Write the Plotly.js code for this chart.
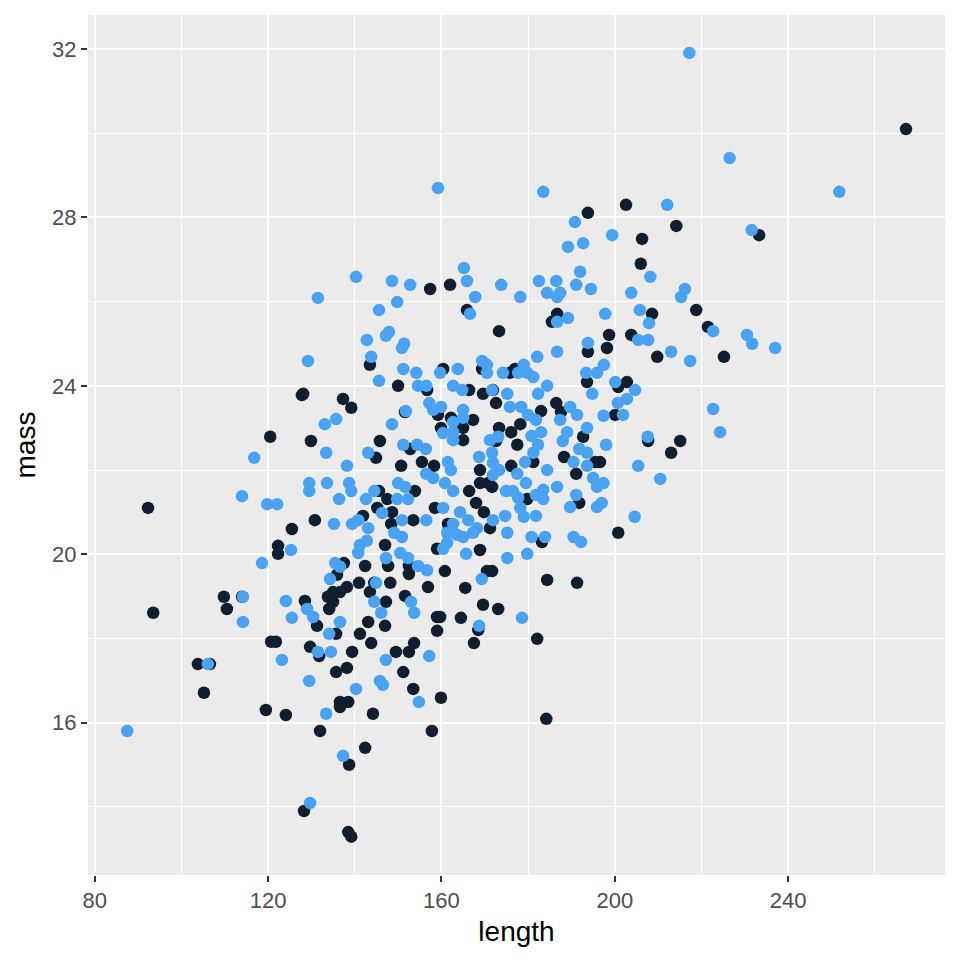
<!DOCTYPE html>
<html>
<head>
<meta charset="utf-8">
<script src="https://cdn.plot.ly/plotly-3.0.1.min.js"></script>
<style>html,body{margin:0;padding:0;background:#fff;}#chart{width:960px;height:960px;}</style>
</head>
<body>
<div id="chart"></div>
<script>
// Group A (dark points)
const darkLength = [
127.8,120.5,92.3,125.5,122.3,122.3,109.8,114.0,128.5,110.5,93.5,120.7,121.8,103.8,106.6,105.2,119.5,124.1,129.7,128.3,
157.4,162.0,143.5,160.4,150.0,156.7,128.1,137.3,139.2,151.6,159.2,162.2,
159.9,129.9,145.8,144.9,152.8,155.5,158.3,150.7,145.6,153.9,147.5,145.2,148.6,158.5,141.9,130.8,148.4,153.5,161.5,147.0,159.0,147.7,142.4,137.5,135.9,152.5,152.5,160.8,138.2,136.6,135.0,133.8,141.0,144.5,143.5,148.2,156.9,151.6,
134.1,135.0,147.2,159.0,159.7,164.5,159.0,131.3,143.1,147.0,135.7,141.2,143.8,131.8,139.4,149.5,152.5,153.7,138.2,135.7,151.2,153.5,159.9,136.6,138.5,136.6,144.2,132.0,157.8,142.4,138.7,138.5,139.2,
193.8,165.9,186.7,185.5,173.3,198.7,198.2,193.8,169.4,175.8,177.0,193.6,166.4,171.9,169.6,
172.6,186.5,187.6,183.0,167.3,165.0,165.0,173.3,172.6,176.1,178.2,177.5,192.7,168.9,181.2,176.1,188.3,195.5,191.1,168.9,171.7,170.8,166.4,179.8,168.0,169.8,191.8,171.2,183.2,168.9,170.5,171.7,165.5,184.4,191.3,
169.6,173.1,168.5,167.5,182.1,184.2,
202.6,214.2,233.3,206.3,206.0,218.8,208.6,203.8,221.5,209.8,225.2,202.8,200.8,200.1,207.7,215.1,213.0,196.6,200.8,267.2
];
const darkMass = [
23.78,22.79,21.10,20.60,20.20,20.01,18.99,18.99,18.89,18.70,18.61,17.92,17.92,17.39,17.39,16.71,16.30,16.18,17.80,13.90,
26.30,26.40,24.50,24.40,24.00,23.90,23.81,23.69,23.48,23.38,23.31,23.24,
23.00,22.69,22.69,22.29,22.50,22.19,22.10,22.10,21.50,21.50,21.31,21.10,21.00,21.10,20.91,20.81,20.72,20.81,20.72,20.22,20.13,19.72,19.72,19.79,19.51,19.72,19.53,19.60,19.22,19.10,19.10,18.99,19.32,19.32,19.10,19.32,19.22,19.01,
18.70,18.87,18.87,18.51,18.51,18.49,18.18,18.30,18.39,18.30,18.11,18.11,17.89,17.58,17.68,17.68,17.68,17.89,17.30,17.20,17.20,16.80,16.59,16.49,16.49,16.37,16.21,15.80,15.80,15.40,15.00,13.40,13.29,
28.11,25.80,25.71,25.52,25.30,25.21,24.90,24.81,24.40,24.31,24.40,24.09,23.90,23.90,23.81,
23.59,23.59,23.38,23.40,23.19,23.00,22.71,23.00,22.69,22.90,23.09,22.60,22.79,22.00,22.19,22.10,22.31,22.19,21.91,21.69,21.60,21.69,21.50,21.31,21.22,21.00,21.22,20.62,20.29,20.10,19.60,19.60,19.20,19.39,19.32,
18.80,18.70,18.20,17.89,17.99,16.09,
28.30,27.80,27.58,27.49,26.90,25.80,25.71,25.21,25.40,24.69,24.69,24.09,23.97,23.31,22.69,22.69,22.41,22.19,20.51,30.10
];
// Group B (light blue points)
const lightLength = [
116.8,114.0,119.8,122.1,125.3,118.6,114.2,124.1,125.5,114.2,123.2,106.1,87.5,129.5,129.7,
159.2,140.3,131.5,148.6,152.8,149.8,145.6,147.9,147.2,142.8,151.4,150.9,143.8,129.2,151.2,154.2,159.7,145.6,154.6,156.5,157.2,159.9,151.8,158.1,
133.1,135.7,148.6,160.4,133.4,143.1,151.2,154.4,156.4,138.2,161.5,162.2,156.5,158.1,160.8,129.5,129.5,133.6,138.7,139.2,150.0,151.6,144.5,136.4,142.6,149.8,152.3,146.3,160.4,135.2,139.4,140.8,150.9,156.5,143.1,149.1,150.9,161.3,141.2,142.8,140.8,150.5,152.3,160.4,161.3,147.2,135.5,136.6,134.3,154.6,156.7,144.9,
129.0,130.4,144.5,153.0,146.1,153.7,136.6,134.1,131.5,134.5,157.2,147.2,140.3,145.8,146.5,154.8,133.4,137.3,
183.5,190.8,192.7,199.4,189.2,165.2,165.9,173.8,167.8,178.2,182.5,186.5,192.0,191.1,194.5,184.4,187.4,186.7,166.6,186.7,189.2,197.8,193.8,182.1,186.7,163.8,169.4,170.5,170.5,174.2,179.0,177.7,179.8,181.2,184.4,193.4,195.9,197.5,194.8,162.7,164.8,171.7,175.2,182.3,
175.8,178.4,189.7,191.3,180.0,181.8,187.4,197.4,165.0,165.0,162.7,162.7,162.7,171.2,173.1,180.8,183.0,182.3,189.0,188.0,193.6,191.8,193.6,168.7,171.7,171.9,173.3,171.9,181.2,179.3,190.5,193.6,184.4,177.5,179.5,162.7,174.9,176.5,177.7,181.8,183.5,183.5,186.7,195.0,195.9,197.4,178.2,179.0,191.1,189.7,195.9,197.0,164.3,166.2,162.7,171.9,174.7,181.8,168.2,167.3,163.6,165.0,175.2,180.8,183.9,190.5,192.2,165.7,175.2,179.8,169.3,
168.7,178.6,
212.1,226.5,231.6,208.2,203.8,216.2,215.3,205.8,207.9,222.7,205.4,207.7,230.5,231.7,213.0,217.4,200.1,204.7,202.8,200.7,222.7,201.9,224.3,207.6,198.0,205.4,210.5,204.6,
251.8,237.0,217.2
];
const lightMass = [
22.29,21.38,21.19,21.19,20.10,19.79,18.99,18.89,18.49,18.39,17.49,17.39,15.80,16.99,14.09,
28.70,26.59,26.09,26.49,26.40,25.99,25.80,25.28,25.19,25.09,25.00,24.90,24.69,24.59,24.40,24.31,24.31,24.12,24.00,24.00,23.59,23.50,23.40,23.43,
23.09,23.21,23.09,22.88,22.41,22.41,22.60,22.60,22.50,22.10,22.19,22.00,21.91,21.81,21.69,21.69,21.50,21.69,21.69,21.50,21.69,21.60,21.50,21.31,21.31,21.31,21.31,20.98,21.10,20.72,20.72,20.81,20.81,20.81,20.62,20.51,20.41,20.51,20.22,20.32,20.03,20.03,19.91,20.13,20.27,19.91,19.79,19.70,19.41,19.72,19.62,19.32,
18.70,18.51,18.87,18.87,18.61,18.61,18.39,18.11,17.68,17.68,17.58,17.49,16.80,16.99,16.90,16.49,16.21,15.21,
28.61,27.89,27.39,27.58,27.30,26.80,26.49,26.40,26.11,26.11,26.49,26.49,26.71,26.40,26.30,26.21,26.21,26.11,25.71,25.52,25.61,25.71,25.02,24.69,24.81,24.40,24.59,24.50,24.31,24.31,24.50,24.31,24.31,24.21,24.00,24.31,24.31,24.50,23.81,24.00,23.90,23.90,23.81,23.81,
23.50,23.50,23.50,23.31,23.31,23.19,23.19,23.29,23.43,23.24,23.14,22.90,22.71,22.71,22.79,22.81,22.90,22.60,22.90,22.69,23.00,22.50,22.41,22.31,22.41,22.17,22.00,21.88,22.41,22.19,22.19,22.10,22.00,21.91,21.69,21.50,21.50,21.50,21.34,21.41,21.53,21.31,21.60,21.81,21.60,21.69,21.10,20.89,21.41,21.12,21.12,21.22,21.00,20.81,20.72,20.81,20.91,20.91,20.62,20.51,20.46,20.41,20.51,20.41,20.41,20.41,20.29,20.01,19.91,20.01,19.41,
18.30,18.49,
28.30,29.41,27.70,26.59,26.21,26.30,26.11,25.80,25.49,25.30,25.09,25.09,25.21,25.00,24.81,24.59,24.09,23.90,23.69,23.59,23.45,23.31,22.90,22.79,22.60,22.10,21.79,20.89,
28.61,24.90,31.91
];

const FONT = 'Liberation Sans, Arial, Helvetica, sans-serif';
const markerSize = 12.5;

const traces = [
  {x: darkLength, y: darkMass, type: 'scatter', mode: 'markers', hoverinfo: 'x+y',
   marker: {color: '#0F1F30', size: markerSize, line: {width: 0}}},
  {x: lightLength, y: lightMass, type: 'scatter', mode: 'markers', hoverinfo: 'x+y',
   marker: {color: '#4AA3F2', size: markerSize, line: {width: 0}}}
];

const layout = {
  width: 960, height: 960,
  margin: {l: 88, r: 15, t: 15, b: 85},
  paper_bgcolor: '#FFFFFF',
  plot_bgcolor: '#EBEBEB',
  showlegend: false,
  font: {family: FONT},
  xaxis: {
    range: [78.45, 276.2],
    tickmode: 'linear', tick0: 80, dtick: 40,
    showgrid: true, gridcolor: '#FFFFFF', gridwidth: 2,
    minor: {tickmode: 'linear', tick0: 80, dtick: 20, showgrid: true, gridcolor: '#FFFFFF', gridwidth: 1, ticks: ''},
    zeroline: false, showline: false,
    ticks: 'outside', ticklen: 6, tickwidth: 2, tickcolor: '#333333',
    tickfont: {family: FONT, size: 22, color: '#4D4D4D'},
    title: {text: 'length', font: {family: FONT, size: 28, color: '#000000'}, standoff: 8},
    automargin: false
  },
  yaxis: {
    range: [12.38, 32.81],
    tickmode: 'linear', tick0: 16, dtick: 4,
    showgrid: true, gridcolor: '#FFFFFF', gridwidth: 2,
    minor: {tickmode: 'linear', tick0: 16, dtick: 2, showgrid: true, gridcolor: '#FFFFFF', gridwidth: 1, ticks: ''},
    zeroline: false, showline: false,
    ticks: 'outside', ticklen: 6, tickwidth: 2, tickcolor: '#333333',
    tickfont: {family: FONT, size: 22, color: '#4D4D4D'},
    title: {text: 'mass', font: {family: FONT, size: 28, color: '#000000'}, standoff: 8},
    automargin: false
  }
};

Plotly.newPlot('chart', traces, layout, {displayModeBar: false, staticPlot: true});
</script>
</body>
</html>
